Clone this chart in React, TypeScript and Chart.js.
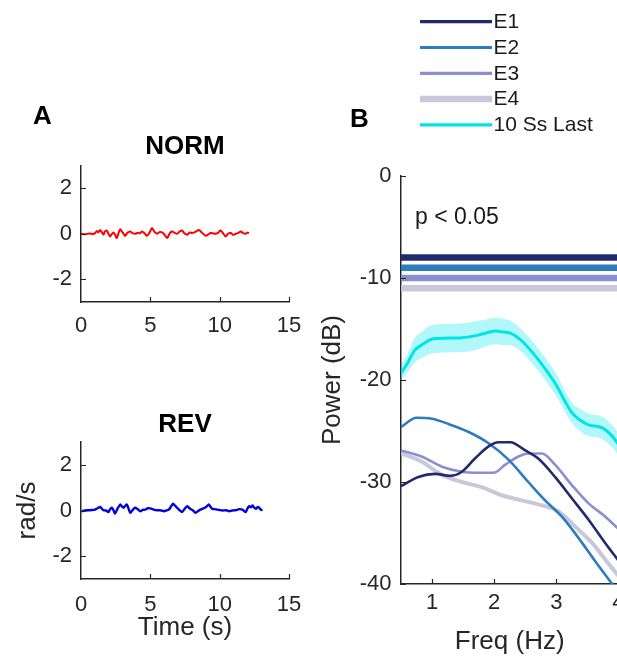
import React, { useEffect, useRef } from 'react';
import { Chart, registerables } from 'chart.js';

Chart.register(...registerables);

const FONT = '"Liberation Sans", Arial, Helvetica, sans-serif';
const AXIS = '#262626';

// ---------- Panel A: head rotation rate ----------
const timeTicks = [0, 5, 10, 15];
const rateTicks = [-2, 0, 2];

const normTime = [
  0.0, 0.3, 0.6, 0.85, 1.01, 1.15, 1.25, 1.38, 1.5, 1.62, 1.72, 1.86, 1.98, 2.1, 2.22, 2.34, 2.46, 2.58,
  2.7, 2.83, 2.95, 3.07, 3.19, 3.35, 3.55, 3.7, 3.91, 4.1, 4.25, 4.4, 4.58, 4.76, 4.95, 5.12, 5.3, 5.48,
  5.65, 5.85, 6.02, 6.21, 6.4, 6.57, 6.75, 6.93, 7.1, 7.29, 7.45, 7.66, 7.85, 8.02, 8.25, 8.5, 8.7, 8.99,
  9.18, 9.35, 9.55, 9.71, 9.9, 10.07, 10.25, 10.43, 10.6, 10.8, 10.98, 11.16, 11.35, 11.52, 11.7, 11.88,
  12.0, 12.12,
];
const normRate = [
  0.0, -0.02, 0.01, -0.01, 0.03, 0.12, 0.06, 0.17, 0.06, -0.04, 0.1, 0.14, 0.0, -0.12, -0.02, 0.06, -0.05, -0.19,
  0.02, 0.2, 0.1, 0.0, -0.09, 0.04, 0.1, 0.03, 0.0, 0.04, 0.02, 0.1, 0.02, -0.09, 0.06, 0.25, 0.08, 0.0,
  0.07, 0.06, -0.04, -0.19, 0.02, 0.1, 0.04, 0.0, 0.09, 0.14, 0.02, -0.04, 0.06, 0.03, 0.08, 0.17, 0.06, -0.09,
  -0.03, 0.03, 0.01, 0.0, 0.05, 0.14, 0.02, -0.12, 0.0, 0.03, -0.05, 0.0, 0.04, 0.1, 0.03, 0.0,
  0.05, 0.03,
];

const revTime = [
  0.05, 0.3, 0.53, 0.8, 1.01, 1.2, 1.38, 1.5, 1.62, 1.8, 1.98, 2.1, 2.22, 2.34, 2.46, 2.65, 2.83, 2.95,
  3.07, 3.19, 3.31, 3.43, 3.55, 3.72, 3.91, 4.1, 4.28, 4.45, 4.64, 4.82, 5.0, 5.25, 5.48, 5.7, 5.97, 6.15,
  6.33, 6.5, 6.64, 6.8, 6.93, 7.1, 7.29, 7.48, 7.66, 7.78, 7.9, 8.08, 8.26, 8.45, 8.62, 8.78, 8.94, 9.1,
  9.23, 9.35, 9.47, 9.65, 9.83, 10.0, 10.19, 10.45, 10.68, 10.9, 11.16, 11.4, 11.64, 11.8, 11.88, 12.0,
  12.13, 12.25, 12.37, 12.5, 12.61, 12.73, 12.85, 12.97, 13.09,
];
const revRate = [
  -0.03, 0.0, 0.01, 0.02, 0.04, 0.1, 0.16, 0.08, 0.01, 0.0, -0.07, 0.06, 0.12, 0.02, -0.13, 0.1, 0.26, 0.18,
  0.12, 0.2, 0.26, 0.08, -0.1, 0.02, 0.12, 0.05, -0.03, 0.03, 0.04, 0.1, 0.09, 0.04, 0.01, 0.01, -0.03, 0.0,
  0.04, 0.18, 0.3, 0.2, 0.12, 0.02, -0.07, 0.08, 0.19, 0.12, 0.07, 0.0, -0.1, -0.02, 0.04, 0.08, 0.12, 0.2,
  0.26, 0.15, 0.07, 0.06, 0.04, 0.02, 0.0, 0.01, -0.03, 0.0, 0.01, 0.06, 0.04, -0.04, -0.07, 0.08,
  0.19, 0.14, 0.22, 0.12, 0.07, 0.15, 0.12, 0.03, 0.01,
];

// ---------- Panel B: power spectra ----------
const seriesLabels = ['E1', 'E2', 'E3', 'E4', '10 Ss Last'];
const seriesColors = ['rgb(32,42,108)', 'rgb(44,124,190)', 'rgb(138,144,206)', 'rgb(200,200,218)', 'rgb(0,228,232)'];
const seriesWidths = [2.6, 2.6, 2.6, 4, 3];

const freqTicks = [1, 2, 3, 4];
const powerTicks = [0, -10, -20, -30, -40];

const e1Freq = [0.5, 0.78, 1.05, 1.29, 1.48, 1.69, 1.91, 2.07, 2.26, 2.5, 2.71, 2.98, 3.25, 3.52, 3.79, 4.0];
const e1Power = [-30.4, -29.5, -29.2, -29.4, -29.0, -27.7, -26.5, -26.1, -26.1, -26.9, -27.7, -29.5, -31.6, -33.7, -36.0, -37.7];

const e2Freq = [0.5, 0.75, 1.0, 1.26, 1.59, 1.91, 2.23, 2.55, 2.82, 3.09, 3.36, 3.63, 3.9, 4.0];
const e2Power = [-24.6, -23.7, -23.8, -24.3, -25.1, -26.2, -27.8, -30.0, -31.8, -33.4, -35.5, -37.8, -40.0, -40.8];

const e3Freq = [0.5, 0.83, 1.16, 1.48, 1.75, 1.99, 2.18, 2.39, 2.55, 2.77, 2.98, 3.25, 3.52, 3.79, 4.0];
const e3Power = [-26.9, -27.5, -28.5, -29.0, -29.1, -29.1, -28.3, -27.5, -27.2, -27.2, -28.3, -30.3, -32.1, -33.4, -34.6];

const e4Freq = [0.5, 0.83, 1.16, 1.48, 1.8, 2.12, 2.45, 2.77, 3.04, 3.31, 3.58, 3.84, 4.0];
const e4Power = [-27.2, -28.0, -29.3, -30.0, -30.5, -31.3, -31.8, -32.3, -32.9, -34.4, -36.0, -38.0, -39.2];

const lastFreq = [0.5, 0.6, 0.72, 0.85, 0.99, 1.2, 1.48, 1.74, 1.9, 2.02, 2.15, 2.26, 2.45, 2.71, 2.98, 3.25, 3.4, 3.52, 3.74, 3.9, 4.0];
const lastPower = [-19.3, -18.4, -17.1, -16.5, -16.0, -15.9, -15.85, -15.6, -15.35, -15.2, -15.3, -15.4, -16.2, -18.0, -20.3, -23.2, -24.0, -24.4, -24.7, -25.5, -26.3];
const lastSem = [0.7, 0.9, 1.2, 1.3, 1.4, 1.4, 1.4, 1.4, 1.3, 1.3, 1.3, 1.2, 1.1, 1.1, 1.1, 1.0, 1.1, 1.1, 1.1, 1.1, 1.1];

// significance bars (p < 0.05), one per epoch, spanning the band
const sigLevels = [-8.0, -9.0, -10.0, -11.0];
const sigSpan = [0.5, 4.0];

const pts = (xs: number[], ys: number[]) => xs.map((x, i) => ({ x, y: ys[i] }));

const innerTicks = {
  id: 'innerTicks',
  afterDraw(chart: any) {
    const { ctx, chartArea } = chart;
    const xs = chart.scales.x;
    const ys = chart.scales.y;
    ctx.save();
    ctx.strokeStyle = AXIS;
    ctx.lineWidth = 1.2;
    ctx.beginPath();
    xs.ticks.forEach((t: any) => {
      const px = Math.round(xs.getPixelForValue(t.value)) + 0.5;
      if (px > chartArea.left + 1) {
        ctx.moveTo(px, chartArea.bottom);
        ctx.lineTo(px, chartArea.bottom - 5);
      }
    });
    ys.ticks.forEach((t: any) => {
      const py = Math.round(ys.getPixelForValue(t.value)) + 0.5;
      ctx.moveTo(chartArea.left, py);
      ctx.lineTo(chartArea.left + 5, py);
    });
    ctx.stroke();
    ctx.restore();
  },
};

// title centred over the plotting area (MATLAB style)
const areaTitle = {
  id: 'areaTitle',
  afterDraw(chart: any, _args: any, opts: any) {
    if (!opts || !opts.text) return;
    const { ctx, chartArea } = chart;
    ctx.save();
    ctx.font = `bold 26px ${FONT}`;
    ctx.fillStyle = '#000';
    ctx.textAlign = 'center';
    ctx.textBaseline = 'middle';
    ctx.fillText(opts.text, (chartArea.left + chartArea.right) / 2, chartArea.top - opts.offset);
    ctx.restore();
  },
};

const legendPlugin = {
  id: 'vlegend',
  afterDraw(chart: any, _args: any, opts: any) {
    const { ctx } = chart;
    ctx.save();
    ctx.font = `21px ${FONT}`;
    ctx.textBaseline = 'middle';
    ctx.textAlign = 'left';
    seriesLabels.forEach((label, i) => {
      const y = opts.y0 + i * opts.step;
      ctx.strokeStyle = seriesColors[i];
      ctx.lineWidth = i === 3 ? 6.5 : 3.2;
      ctx.beginPath();
      ctx.moveTo(opts.x0, y);
      ctx.lineTo(opts.x1, y);
      ctx.stroke();
      ctx.fillStyle = '#1a1a1a';
      ctx.fillText(label, opts.x1 + 1.5, y + 0.5);
    });
    ctx.restore();
  },
};

const notePlugin = {
  id: 'pnote',
  afterDraw(chart: any, _args: any, opts: any) {
    const { ctx, chartArea } = chart;
    ctx.save();
    ctx.font = `23px ${FONT}`;
    ctx.fillStyle = '#1a1a1a';
    ctx.textBaseline = 'middle';
    ctx.textAlign = 'left';
    ctx.fillText(opts.text, chartArea.left + opts.dx, chartArea.top + opts.dy);
    ctx.restore();
  },
};

function makeTimeConfig(
  title: string,
  time: number[],
  rate: number[],
  color: string,
  width: number,
  lay: { top: number; titleOffset: number; xHeight: number; xPad: number; right: number; yTitle: boolean; xTitle: boolean }
): any {
  return {
    type: 'line',
    data: {
      datasets: [
        {
          data: pts(time, rate),
          borderColor: color,
          borderWidth: width,
          pointRadius: 0,
          tension: 0.25,
          fill: false,
        },
      ],
    },
    plugins: [innerTicks, areaTitle],
    options: {
      responsive: false,
      animation: false,
      layout: { padding: { left: 0, right: lay.right, top: lay.top, bottom: 0 } },
      plugins: {
        legend: { display: false },
        tooltip: { enabled: false },
        title: { display: false },
        areaTitle: { text: title, offset: lay.titleOffset },
      },
      scales: {
        x: {
          type: 'linear',
          min: 0,
          max: 15,
          afterBuildTicks: (axis: any) => {
            axis.ticks = timeTicks.map((v) => ({ value: v }));
          },
          afterFit: (s: any) => {
            s.height = lay.xHeight;
          },
          grid: { display: false, drawTicks: false },
          border: { display: true, color: AXIS, width: 1.5 },
          ticks: { color: AXIS, font: { family: FONT, size: 22 }, padding: lay.xPad, maxRotation: 0, autoSkip: false },
          title: {
            display: lay.xTitle,
            text: 'Time (s)',
            color: AXIS,
            font: { family: FONT, size: 26, lineHeight: 1.2 },
            padding: { top: 0, bottom: 12.4 },
          },
        },
        y: {
          type: 'linear',
          min: -3,
          max: 3,
          afterBuildTicks: (axis: any) => {
            axis.ticks = rateTicks.map((v) => ({ value: v }));
          },
          afterFit: (s: any) => {
            s.width = 81;
          },
          grid: { display: false, drawTicks: false },
          border: { display: true, color: AXIS, width: 1.5 },
          ticks: { color: AXIS, font: { family: FONT, size: 22 }, padding: 9, autoSkip: false },
          title: {
            display: lay.yTitle,
            text: 'rad/s',
            color: AXIS,
            font: { family: FONT, size: 26, lineHeight: 1.2 },
            padding: { top: 12.4, bottom: 0 },
          },
        },
      },
    },
  };
}

function makeSpectrumConfig(): any {
  const curve = (xs: number[], ys: number[], i: number) => ({
    label: seriesLabels[i],
    data: pts(xs, ys),
    borderColor: seriesColors[i],
    borderWidth: seriesWidths[i],
    pointRadius: 0,
    cubicInterpolationMode: 'monotone',
    fill: false,
  });
  const upper = lastPower.map((v, i) => v + lastSem[i]);
  const lower = lastPower.map((v, i) => v - lastSem[i]);
  const bars = sigLevels.map((lvl, i) => ({
    label: seriesLabels[i] + ' sig',
    data: sigSpan.map((x) => ({ x, y: lvl })),
    borderColor: seriesColors[i],
    borderWidth: 6.5,
    pointRadius: 0,
    fill: false,
  }));
  return {
    type: 'line',
    data: {
      datasets: [
        curve(lastFreq, lastPower, 4),
        curve(e1Freq, e1Power, 0),
        curve(e2Freq, e2Power, 1),
        curve(e3Freq, e3Power, 2),
        curve(e4Freq, e4Power, 3),
        {
          label: 'sem upper',
          data: pts(lastFreq, upper),
          borderWidth: 0,
          borderColor: 'rgba(0,0,0,0)',
          pointRadius: 0,
          cubicInterpolationMode: 'monotone',
          fill: false,
        },
        {
          label: 'sem lower',
          data: pts(lastFreq, lower),
          borderWidth: 0,
          borderColor: 'rgba(0,0,0,0)',
          backgroundColor: 'rgba(0,228,236,0.3)',
          pointRadius: 0,
          cubicInterpolationMode: 'monotone',
          fill: '-1',
        },
        ...bars,
      ],
    },
    plugins: [innerTicks, legendPlugin, notePlugin],
    options: {
      responsive: false,
      animation: false,
      layout: { padding: { left: 0, right: 11.5, top: 176, bottom: 0 } },
      plugins: {
        legend: { display: false },
        tooltip: { enabled: false },
        title: { display: false },
        vlegend: { x0: 115, x1: 187, y0: 21.7, step: 25.8 },
        pnote: { text: 'p < 0.05', dx: 14, dy: 42 },
      },
      scales: {
        x: {
          type: 'linear',
          min: 0.5,
          max: 4.0,
          afterBuildTicks: (axis: any) => {
            axis.ticks = freqTicks.map((v) => ({ value: v }));
          },
          afterFit: (s: any) => {
            s.height = 76;
          },
          grid: { display: false, drawTicks: false },
          border: { display: true, color: AXIS, width: 1.5 },
          ticks: { color: AXIS, font: { family: FONT, size: 22 }, padding: 5.5, maxRotation: 0, autoSkip: false },
          title: {
            display: true,
            text: 'Freq (Hz)',
            color: AXIS,
            font: { family: FONT, size: 26, lineHeight: 1.2 },
            padding: { top: 0, bottom: 2.4 },
          },
        },
        y: {
          type: 'linear',
          min: -40,
          max: 0,
          afterBuildTicks: (axis: any) => {
            axis.ticks = powerTicks.map((v) => ({ value: v }));
          },
          afterFit: (s: any) => {
            s.width = 96;
          },
          grid: { display: false, drawTicks: false },
          border: { display: true, color: AXIS, width: 1.5 },
          ticks: { color: AXIS, font: { family: FONT, size: 22 }, padding: 9.5, autoSkip: false },
          title: {
            display: true,
            text: 'Power (dB)',
            color: AXIS,
            font: { family: FONT, size: 26, lineHeight: 1.2 },
            padding: { top: 12.4, bottom: 0 },
          },
        },
      },
    },
  };
}

function ChartBox(props: { left: number; top: number; width: number; height: number; make: () => any }) {
  const ref = useRef<HTMLCanvasElement | null>(null);
  useEffect(() => {
    const chart = new Chart(ref.current as HTMLCanvasElement, props.make());
    return () => chart.destroy();
  }, []);
  return (
    <canvas
      ref={ref}
      width={props.width}
      height={props.height}
      style={{ position: 'absolute', left: props.left, top: props.top, width: props.width, height: props.height }}
    />
  );
}

const panelLetter: React.CSSProperties = {
  position: 'absolute',
  fontFamily: FONT,
  fontWeight: 'bold',
  fontSize: 26,
  lineHeight: '26px',
  color: '#000',
  margin: 0,
};

export default function App() {
  return (
    <div
      style={{
        position: 'absolute',
        left: 0,
        top: 0,
        width: 617,
        height: 656,
        overflow: 'hidden',
        background: '#fff',
      }}
    >
      <ChartBox
        left={0}
        top={100}
        width={320}
        height={240}
        make={() =>
          makeTimeConfig('NORM', normTime, normRate, 'rgb(250,0,0)', 2, {
            top: 65.5,
            titleOffset: 18.5,
            xHeight: 38,
            xPad: 10.8,
            right: 31,
            yTitle: false,
            xTitle: false,
          })
        }
      />
      <ChartBox
        left={0}
        top={380}
        width={320}
        height={276}
        make={() =>
          makeTimeConfig('REV', revTime, revRate, 'rgb(0,0,225)', 2.4, {
            top: 62,
            titleOffset: 17,
            xHeight: 77,
            xPad: 12.8,
            right: 31,
            yTitle: true,
            xTitle: true,
          })
        }
      />
      <ChartBox left={305} top={0} width={325} height={660} make={makeSpectrumConfig} />
      <div style={{ ...panelLetter, left: 33, top: 102 }}>A</div>
      <div style={{ ...panelLetter, left: 350, top: 105 }}>B</div>
    </div>
  );
}
